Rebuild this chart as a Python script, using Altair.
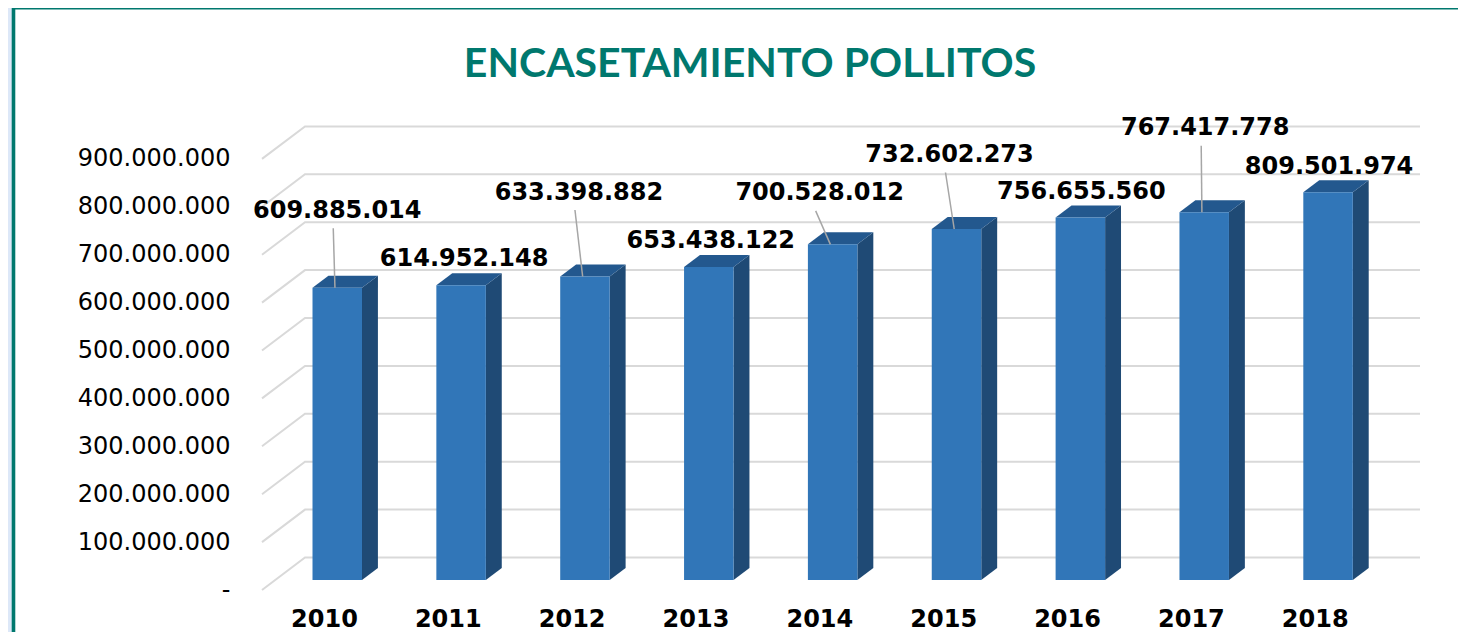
import altair as alt
import pandas as pd

# ---------------- data ----------------
years = ["2010", "2011", "2012", "2013", "2014", "2015", "2016", "2017", "2018"]
values = [609885014, 614952148, 633398882, 653438122, 700528012,
          732602273, 756655560, 767417778, 809501974]
y_ticks = [0, 100, 200, 300, 400, 500, 600, 700, 800, 900]  # millions

# manual data-label placement (px offset from the bar's top front edge)
label_dx = [0, 3, -6, 2, -13, -7, 1, 1, 1]
label_dy = [-77, -26, -84, -26, -51, -74, -25, -84, -25]

# ---------------- geometry ----------------
PLOT_W, PLOT_H = 1158, 479
X_MAX = 9.35            # 9 category slots + depth of the back wall
Y_MAX = 1000            # millions (front plane)
PX_SLOT = PLOT_W / X_MAX
K = PLOT_H / Y_MAX      # px per million
DEPTH_X, DEPTH_Y = 43, 32.5
BAR_D0, BAR_D1 = 0.31, 0.68
BAR_W = 49.5


def ux(px):
    return px / PX_SLOT


def uy(px):
    return px / K


ddx = ux((BAR_D1 - BAR_D0) * DEPTH_X)
ddy = uy((BAR_D1 - BAR_D0) * DEPTH_Y)
y0 = uy(BAR_D0 * DEPTH_Y)

front_rows, side_rows, top_rows, label_rows, leader_rows = [], [], [], [], []
for i, (yr, v) in enumerate(zip(years, values)):
    m = v / 1e6
    cx = i + 0.5 + ux(BAR_D0 * DEPTH_X)
    xl, xr = cx - ux(BAR_W / 2), cx + ux(BAR_W / 2)
    top = m + y0
    front_rows.append(dict(year=yr, x=xl, x2=xr, y=top, y2=y0))
    side_rows += [dict(year=yr, x=xr, y=top, y2=y0),
                  dict(year=yr, x=xr + ddx, y=top + ddy, y2=y0 + ddy)]
    top_rows += [dict(year=yr, x=xl, y=top, y2=top),
                 dict(year=yr, x=xl + ddx, y=top + ddy, y2=top),
                 dict(year=yr, x=xr, y=top + ddy, y2=top),
                 dict(year=yr, x=xr + ddx, y=top + ddy, y2=top + ddy)]
    lx = cx + ux(label_dx[i])
    ly = top + uy(-label_dy[i])
    label_rows.append(dict(year=yr, x=lx, y=ly,
                           label=f"{v:,}".replace(",", ".")))
    if label_dy[i] < -40:
        leader_rows.append(dict(year=yr, x=lx + ux(-4), y=ly - uy(17.5),
                                x2=cx + ux(-2.3), y2=top))

grid_rows = []
for t in y_ticks:
    grid_rows += [dict(t=t, o=0, x=0, y=t),
                  dict(t=t, o=1, x=ux(DEPTH_X), y=t + uy(DEPTH_Y)),
                  dict(t=t, o=2, x=X_MAX, y=t + uy(DEPTH_Y))]

front_df = pd.DataFrame(front_rows)
side_df = pd.DataFrame(side_rows)
top_df = pd.DataFrame(top_rows)
label_df = pd.DataFrame(label_rows)
leader_df = pd.DataFrame(leader_rows)
grid_df = pd.DataFrame(grid_rows)

xs = alt.Scale(domain=[0, X_MAX], nice=False, zero=False)
ys = alt.Scale(domain=[0, Y_MAX], nice=False, zero=False)

NB = "\u00a0"
y_label_expr = ("datum.value == 0 ? '-" + NB + NB + "' : "
                "replace(replace(format(datum.value * 1000000, ','), ',', '.'), ',', '.')")
x_label_expr = "[" + ",".join(f"'{y}'" for y in years) + "][floor(datum.value)]"


def X(field="x"):
    return alt.X(f"{field}:Q", scale=xs, title=None)


def Y(field="y"):
    return alt.Y(f"{field}:Q", scale=ys, title=None)


frame = alt.Chart(pd.DataFrame({"a": [0]})).mark_rect(
    fill="white", stroke="#00786E", strokeWidth=3.6
).encode(
    x=alt.value(-248.5), x2=alt.value(PLOT_W + 200),
    y=alt.value(-103.2), y2=alt.value(PLOT_H + 200)
)

title = alt.Chart(pd.DataFrame({"a": [0]})).mark_text(
    font="Lato", fontWeight="bold", fontSize=41, color="#00786E",
    align="center", baseline="alphabetic"
).encode(
    x=alt.value(750 - 262), y=alt.value(77 - 111),
    text=alt.value("ENCASETAMIENTO POLLITOS")
)

grid = alt.Chart(grid_df).mark_line(color="#D9D9D9", strokeWidth=2).encode(
    x=alt.X("x:Q", scale=xs, title=None, axis=alt.Axis(
        values=[i + 0.5 for i in range(len(years))], labelExpr=x_label_expr,
        labelFont="DejaVu Sans", labelFontWeight="bold", labelFontSize=24,
        labelColor="#000000", labelBaseline="alphabetic", labelPadding=36,
        ticks=False, tickSize=0, domain=False, grid=False,
        labelOverlap=False, labelFlush=False, zindex=1)),
    y=alt.Y("y:Q", scale=ys, title=None, axis=alt.Axis(
        values=y_ticks, labelExpr=y_label_expr,
        labelFont="DejaVu Sans", labelFontSize=24, labelColor="#000000",
        labelPadding=32, ticks=False, tickSize=0, domain=False, grid=False,
        zindex=1)),
    detail="t:N",
    order="o:Q",
)

side = alt.Chart(side_df).mark_area(color="#1F4A75", orient="vertical").encode(
    x=X(), y=Y(), y2="y2:Q", detail="year:N",
)

topf = alt.Chart(top_df).mark_area(color="#23588E", orient="vertical").encode(
    x=X(), y=Y(), y2="y2:Q", detail="year:N",
)

front = alt.Chart(front_df).mark_rect(color="#3176B8").encode(
    x=X(), x2="x2:Q", y=Y(), y2="y2:Q",
)

leaders = alt.Chart(leader_df).mark_rule(color="#A6A6A6", strokeWidth=1.5).encode(
    x=X(), x2="x2:Q", y=Y(), y2="y2:Q",
)

labels = alt.Chart(label_df).mark_text(
    font="DejaVu Sans", fontWeight="bold", fontSize=24, color="#000000",
    align="center", baseline="middle"
).encode(
    x=X(), y=Y(), text="label:N",
)

chart = alt.layer(frame, title, grid, side, topf, front, leaders, labels).properties(
    width=PLOT_W, height=PLOT_H,
    autosize=alt.AutoSizeParams(type="none"),
    padding={"left": 254, "top": 103, "right": 38, "bottom": 42},
    background="#DDE8F8",
).configure_view(stroke=None).configure_axis(
    ticks=False, domain=False, grid=False, zindex=1,
    labelFont="DejaVu Sans", labelFontSize=24, labelColor="#000000",
)

chart.save("out.html", embed_options={"renderer": "svg", "actions": False})
